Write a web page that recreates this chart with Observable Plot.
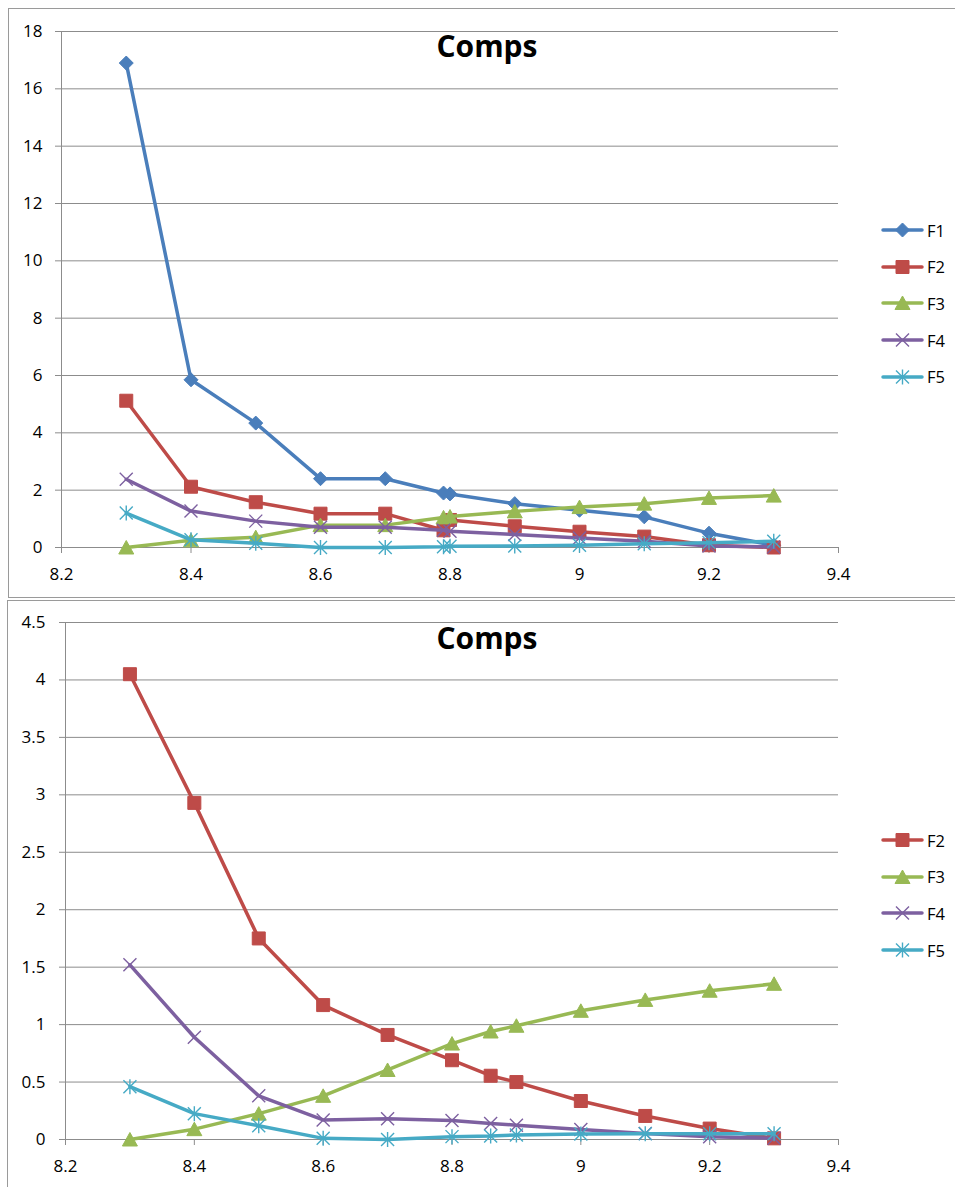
<!DOCTYPE html>
<html>
<head>
<meta charset="utf-8">
<script src="https://cdn.jsdelivr.net/npm/d3@7"></script>
<script src="https://cdn.jsdelivr.net/npm/@observablehq/plot@0.6"></script>
<style>
  html, body { margin: 0; padding: 0; background: #fff; }
  body { width: 955px; height: 1187px; overflow: hidden; position: relative; font-family: "Open Sans", sans-serif; }
  .frame { position: absolute; border: 1px solid #9a9a9a; background: #fff; box-sizing: border-box; }
  .chart { position: absolute; left: 0; }
  .title { position: absolute; left: 387px; width: 200px; text-align: center; font-weight: 700; font-size: 30px; line-height: 30px; color: #000; }
  .leg { position: absolute; left: 881px; height: 18px; display: flex; align-items: center; font-size: 16.5px; color: #000; }
  .leg svg { display: block; margin-right: 3px; }
</style>
</head>
<body>
<div class="frame" style="left:8px; top:8px; width:960px; height:590px;"></div>
<div class="frame" style="left:7px; top:600px; width:960px; height:600px;"></div>
<div id="c1" class="chart" style="top:0px;"></div>
<div id="c2" class="chart" style="top:600px;"></div>
<div class="title" style="top:31px;">Comps</div>
<div class="title" style="top:623px;">Comps</div>
<div id="leg1"></div>
<div id="leg2"></div>
<script>
// ---------- Data ----------
const chartTitle = "Comps";
const seriesNames = ["F1", "F2", "F3", "F4", "F5"];
const seriesColors = ["#4A7EBB", "#BE4B48", "#98B954", "#7D60A0", "#46AAC5"];

// Top chart
const xTop = [8.3, 8.4, 8.5, 8.6, 8.7, 8.79, 8.8, 8.9, 9.0, 9.1, 9.2, 9.3];
const topF1 = [16.9, 5.85, 4.34, 2.4, 2.4, 1.9, 1.87, 1.53, 1.3, 1.07, 0.5, 0.08];
const topF2 = [5.12, 2.12, 1.58, 1.18, 1.18, 0.6, 0.96, 0.74, 0.55, 0.38, 0.08, 0.0];
const topF3 = [0.0, 0.25, 0.36, 0.78, 0.78, 1.05, 1.08, 1.26, 1.41, 1.53, 1.73, 1.81];
const topF4 = [2.38, 1.27, 0.92, 0.71, 0.71, 0.6, 0.57, 0.45, 0.33, 0.22, 0.05, 0.02];
const topF5 = [1.2, 0.27, 0.15, 0.0, 0.0, 0.03, 0.04, 0.05, 0.08, 0.13, 0.17, 0.22];
const topYTicks = [0, 2, 4, 6, 8, 10, 12, 14, 16, 18];
const topYLabels = ["0", "2", "4", "6", "8", "10", "12", "14", "16", "18"];

// Bottom chart
const xBottom = [8.3, 8.4, 8.5, 8.6, 8.7, 8.8, 8.86, 8.9, 9.0, 9.1, 9.2, 9.3];
const botF2 = [4.05, 2.93, 1.75, 1.17, 0.91, 0.69, 0.555, 0.5, 0.335, 0.205, 0.095, 0.01];
const botF3 = [0.0, 0.09, 0.225, 0.38, 0.605, 0.835, 0.94, 0.99, 1.12, 1.215, 1.295, 1.355];
const botF4 = [1.52, 0.89, 0.38, 0.17, 0.18, 0.165, 0.14, 0.125, 0.087, 0.052, 0.023, 0.01];
const botF5 = [0.46, 0.225, 0.12, 0.01, 0.0, 0.025, 0.03, 0.04, 0.047, 0.05, 0.05, 0.05];
const botYTicks = [0, 0.5, 1, 1.5, 2, 2.5, 3, 3.5, 4, 4.5];
const botYLabels = ["0", "0.5", "1", "1.5", "2", "2.5", "3", "3.5", "4", "4.5"];

const xTicks = [8.2, 8.4, 8.6, 8.8, 9.0, 9.2, 9.4];
const xTickLabels = ["8.2", "8.4", "8.6", "8.8", "9", "9.2", "9.4"];

// ---------- Excel-like marker symbols ----------
const symDiamond = {draw(c) { const r = 7; c.moveTo(0, -r); c.lineTo(r, 0); c.lineTo(0, r); c.lineTo(-r, 0); c.closePath(); }};
const symSquare = {draw(c) { const r = 6.5; c.rect(-r, -r, 2 * r, 2 * r); }};
const symTriangle = {draw(c) { c.moveTo(0, -7); c.lineTo(7.5, 6.5); c.lineTo(-7.5, 6.5); c.closePath(); }};
const symTimes = {draw(c) { const r = 6.5; c.moveTo(-r, -r); c.lineTo(r, r); c.moveTo(-r, r); c.lineTo(r, -r); }};
const symStar = {draw(c) { const r = 6.5; c.moveTo(-r, -r); c.lineTo(r, r); c.moveTo(-r, r); c.lineTo(r, -r); c.moveTo(0, -r - 1); c.lineTo(0, r + 1); }};
const seriesSymbols = [symDiamond, symSquare, symTriangle, symTimes, symStar];
const seriesFilled = [true, true, true, false, false];

function seriesMarks(xs, vals, idx) {
  const rows = xs.map((x, i) => ({x, y: vals[i]}));
  const color = seriesColors[idx];
  const filled = seriesFilled[idx];
  return [
    Plot.line(rows, {x: "x", y: "y", stroke: color, strokeWidth: 3.5, strokeLinejoin: "round", strokeLinecap: "round"}),
    Plot.dot(rows, {x: "x", y: "y", symbol: seriesSymbols[idx], r: 5,
      fill: filled ? color : "none", stroke: color, strokeWidth: filled ? 1 : 1.4})
  ];
}

function makeChart(opts) {
  const {height, mt, mb, ml, yDomain, yTicks, yLabels, series, xs, ypad} = opts;
  return Plot.plot({
    width: 955, height,
    marginLeft: ml, marginRight: 117, marginTop: mt, marginBottom: mb,
    style: {background: "transparent", fontFamily: "Open Sans, sans-serif", fontSize: "17px", color: "#000"},
    x: {domain: [8.2, 9.4]},
    y: {domain: yDomain},
    marks: [
      Plot.gridY(yTicks, {stroke: "#8c8c8c", strokeOpacity: 1, strokeWidth: 1}),
      Plot.ruleX([8.2], {stroke: "#8c8c8c", strokeWidth: 1}),
      Plot.axisY({ticks: yTicks, tickSize: 6, tickPadding: ypad, stroke: "#8c8c8c", fill: "#000", fontSize: 17,
        tickFormat: d => yLabels[yTicks.indexOf(d)], label: null}),
      Plot.axisX({ticks: xTicks, tickSize: 6, tickPadding: 14, stroke: "#8c8c8c", fill: "#000", fontSize: 17,
        tickFormat: d => xTickLabels[xTicks.findIndex(t => Math.abs(t - d) < 1e-9)], label: null}),
      ...series.flatMap(([vals, idx]) => seriesMarks(xs, vals, idx))
    ]
  });
}

document.getElementById("c1").append(makeChart({
  height: 597, mt: 31, mb: 50, ml: 61, yDomain: [0, 18], yTicks: topYTicks, yLabels: topYLabels, ypad: 13,
  xs: xTop, series: [[topF1, 0], [topF2, 1], [topF3, 2], [topF4, 3], [topF5, 4]]
}));
document.getElementById("c2").append(makeChart({
  height: 587, mt: 22, mb: 48, ml: 65, yDomain: [0, 4.5], yTicks: botYTicks, yLabels: botYLabels, ypad: 14,
  xs: xBottom, series: [[botF2, 1], [botF3, 2], [botF4, 3], [botF5, 4]]
}));

// ---------- Legends ----------
function legend(containerId, indices, y0) {
  const el = document.getElementById(containerId);
  indices.forEach((idx, k) => {
    const cy = y0 + k * 36.7;
    const color = seriesColors[idx];
    const p = d3.path();
    seriesSymbols[idx].draw(p);
    const filled = seriesFilled[idx];
    const div = document.createElement("div");
    div.className = "leg";
    div.style.top = (cy - 9) + "px";
    div.innerHTML = `<svg width="43" height="18" viewBox="0 0 43 18">
      <line x1="2" y1="9" x2="41" y2="9" stroke="${color}" stroke-width="3.5" stroke-linecap="round"/>
      <path transform="translate(21.5,9)" d="${p.toString()}" fill="${filled ? color : "none"}" stroke="${color}" stroke-width="${filled ? 1 : 1.4}"/>
      </svg><span>${seriesNames[idx]}</span>`;
    el.append(div);
  });
}
legend("leg1", [0, 1, 2, 3, 4], 230);
legend("leg2", [1, 2, 3, 4], 840);
</script>
</body>
</html>
